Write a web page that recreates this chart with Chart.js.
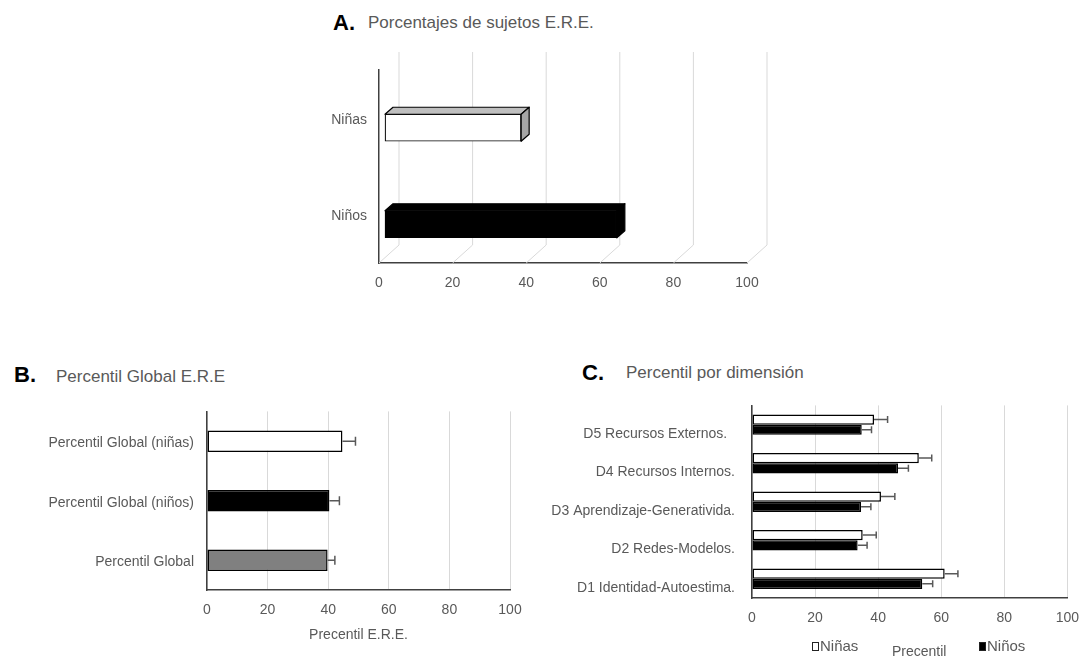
<!DOCTYPE html>
<html><head><meta charset="utf-8">
<script src="https://cdn.jsdelivr.net/npm/chart.js@4.4.0/dist/chart.umd.min.js"></script>
<style>
html,body{margin:0;padding:0;width:1091px;height:658px;overflow:hidden;background:#fff;font-family:'Liberation Sans',Arial,sans-serif;}
canvas{position:absolute;}
.t{position:absolute;white-space:nowrap;color:#595959;font-size:17px;line-height:20px;}
.lab{position:absolute;white-space:nowrap;color:#000;font-weight:bold;font-size:22px;line-height:24px;}
.lg{position:absolute;white-space:nowrap;color:#595959;font-size:15px;line-height:18px;}
.sq{display:inline-block;width:5px;height:7px;border:1px solid #222;margin-right:1px;vertical-align:0px;}
</style></head><body>
<div class="lab" style="left:333px;top:11px">A.</div>
<div class="t" style="left:368px;top:13px">Porcentajes de sujetos E.R.E.</div>
<div class="lab" style="left:14px;top:363px">B.</div>
<div class="t" style="left:56px;top:367px">Percentil Global E.R.E</div>
<div class="lab" style="left:582px;top:361px">C.</div>
<div class="t" style="left:626px;top:363px">Percentil por dimensión</div>

<canvas id="ca" width="560" height="280" style="left:250px;top:30px"></canvas>
<canvas id="cb" width="540" height="268" style="left:0px;top:390px"></canvas>
<canvas id="cc" width="551" height="290" style="left:540px;top:380px"></canvas>

<div class="lg" style="left:812px;top:637px"><span class="sq" style="background:#fff"></span>Niñas</div>
<div class="lg" style="left:892px;top:642px;font-size:14px">Precentil</div>
<div class="lg" style="left:979px;top:637px"><span class="sq" style="background:#000"></span>Niños</div>

<script>
// ---------- data ----------
const ticksX = [0, 20, 40, 60, 80, 100];

const catsA = ['Niñas', 'Niños'];
const pctA = [37, 63];

const catsB = ['Percentil Global (niñas)', 'Percentil Global (niños)', 'Percentil Global'];
const valsB = [44.7, 40.4, 39.8];
const errB = [4.3, 3.3, 2.4];

const catsC = ['D5 Recursos Externos.  ', 'D4 Recursos Internos.', 'D3 Aprendizaje-Generativida.', 'D2 Redes-Modelos.', 'D1 Identidad-Autoestima.'];
const ninasC = [38.7, 52.9, 40.9, 35.1, 61.1];
const ninasErrC = [4.3, 4.1, 4.4, 4.3, 4.2];
const ninosC = [34.8, 46.3, 34.6, 33.5, 54.0];
const ninosErrC = [3.1, 3.3, 3.1, 3.0, 3.3];

// ---------- common ----------
Chart.defaults.font.family = "'Liberation Sans', Arial, sans-serif";
Chart.defaults.color = '#595959';
const AXIS = '#404040';
const GRID = '#d9d9d9';

const errorBars = {
  id: 'errorBars',
  afterDatasetsDraw(chart, args, opts) {
    const ctx = chart.ctx, xs = chart.scales.x;
    chart.data.datasets.forEach((ds, i) => {
      if (!ds.err) return;
      chart.getDatasetMeta(i).data.forEach((bar, j) => {
        const x0 = bar.x, y = bar.y;
        const x1 = xs.getPixelForValue(ds.data[j] + ds.err[j]);
        ctx.save();
        ctx.strokeStyle = '#595959';
        ctx.lineWidth = 1.5;
        ctx.beginPath();
        ctx.moveTo(x0, y); ctx.lineTo(x1, y);
        ctx.moveTo(x1, y - opts.cap); ctx.lineTo(x1, y + opts.cap);
        ctx.stroke();
        ctx.restore();
      });
    });
  }
};

const threeD = {
  id: 'threeD',
  beforeDatasetsDraw(chart, args, o) {
    const ctx = chart.ctx, a = chart.chartArea, xs = chart.scales.x;
    ctx.save();
    ctx.strokeStyle = GRID; ctx.lineWidth = 1;
    xs.ticks.forEach(t => {
      const x = xs.getPixelForValue(t.value);
      ctx.beginPath();
      ctx.moveTo(x, a.bottom);
      ctx.lineTo(x + o.dx, a.bottom - o.dy);
      ctx.lineTo(x + o.dx, a.top - o.dy);
      ctx.stroke();
    });
    ctx.restore();
  },
  beforeDatasetDraw(chart, args, o) {
    chart.ctx.save();
    chart.ctx.translate(o.bx, o.by);
  },
  afterDatasetDraw(chart, args, o) {
    const ctx = chart.ctx;
    const ds = chart.data.datasets[args.index];
    args.meta.data.forEach((bar, j) => {
      const l = bar.base, r = bar.x, t = bar.y - bar.height / 2, b = bar.y + bar.height / 2;
      ctx.lineWidth = 1.2;
      ctx.strokeStyle = '#000';
      ctx.lineJoin = 'round';
      ctx.fillStyle = ds.topColor[j];
      ctx.beginPath();
      ctx.moveTo(l, t); ctx.lineTo(l + o.fx, t - o.fy); ctx.lineTo(r + o.fx, t - o.fy); ctx.lineTo(r, t); ctx.closePath();
      ctx.fill(); ctx.stroke();
      ctx.fillStyle = ds.sideColor[j];
      ctx.beginPath();
      ctx.moveTo(r, t); ctx.lineTo(r + o.fx, t - o.fy); ctx.lineTo(r + o.fx, b - o.fy); ctx.lineTo(r, b); ctx.closePath();
      ctx.fill(); ctx.stroke();
    });
    ctx.restore();
  }
};

function xScale(height, padding, title) {
  return {
    min: 0, max: 100,
    afterBuildTicks: s => { s.ticks = ticksX.map(v => ({ value: v })); },
    grid: { display: true, color: GRID, drawTicks: false, lineWidth: 1 },
    border: { display: true, color: AXIS, width: 1.5 },
    ticks: { padding: padding, font: { size: 14 }, color: '#595959' },
    title: title,
    afterFit: s => { s.height = height; }
  };
}
function yScale(width, padding, offset) {
  return {
    grid: { display: false, drawTicks: false },
    border: { display: true, color: AXIS, width: 1.5 },
    ticks: { padding: padding, labelOffset: offset, font: { size: 14 }, color: '#595959', autoSkip: false },
    afterFit: s => { s.width = width; }
  };
}

// ---------- A ----------
const xa = xScale(47, 12, { display: false });
xa.grid = { display: false, drawTicks: false };
new Chart(document.getElementById('ca'), {
  type: 'bar',
  data: {
    labels: catsA,
    datasets: [{
      data: pctA,
      backgroundColor: ['#ffffff', '#000000'],
      borderColor: '#000', borderWidth: 1.2, borderSkipped: false,
      barThickness: 27,
      topColor: ['#bfbfbf', '#000000'],
      sideColor: ['#a6a6a6', '#000000'],
      clip: false
    }]
  },
  options: {
    responsive: false, animation: false, indexAxis: 'y',
    layout: { padding: { top: 40, right: 63, left: 0, bottom: 0 } },
    plugins: { legend: { display: false }, tooltip: { enabled: false },
      threeD: { dx: 20, dy: 18, bx: 6, by: 9.5, fx: 8, fy: 7 } },
    scales: { x: xa, y: yScale(129, 12, 1.5) }
  },
  plugins: [threeD]
});

// ---------- B ----------
new Chart(document.getElementById('cb'), {
  type: 'bar',
  data: {
    labels: catsB,
    datasets: [{
      data: valsB, err: errB,
      backgroundColor: ['#ffffff', '#000000', '#808080'],
      borderColor: '#000', borderWidth: 1.5, borderSkipped: false,
      categoryPercentage: 1, barPercentage: 0.36
    }]
  },
  options: {
    responsive: false, animation: false, indexAxis: 'y',
    layout: { padding: { top: 14, right: 30, left: 0, bottom: 0 } },
    plugins: { legend: { display: false }, tooltip: { enabled: false }, errorBars: { cap: 4.5 } },
    scales: {
      x: xScale(68, 12, { display: true, text: 'Precentil E.R.E.', font: { size: 14 }, color: '#595959', padding: { top: 0, bottom: 14 } }),
      y: yScale(207, 13, 2)
    }
  },
  plugins: [errorBars]
});

// ---------- C ----------
new Chart(document.getElementById('cc'), {
  type: 'bar',
  data: {
    labels: catsC,
    datasets: [
      { label: 'Niñas', data: ninasC, err: ninasErrC, backgroundColor: '#ffffff',
        borderColor: '#000', borderWidth: 1.5, borderSkipped: false,
        categoryPercentage: 0.53, barPercentage: 1 },
      { label: 'Niños', data: ninosC, err: ninosErrC, backgroundColor: '#000000',
        borderColor: '#000', borderWidth: 1.5, borderSkipped: false,
        categoryPercentage: 0.53, barPercentage: 1 }
    ]
  },
  options: {
    responsive: false, animation: false, indexAxis: 'y',
    layout: { padding: { top: 13, right: 18, left: 0, bottom: 0 } },
    plugins: { legend: { display: false }, tooltip: { enabled: false }, errorBars: { cap: 3.5 } },
    scales: {
      x: xScale(72, 12, { display: false }),
      y: yScale(212, 17, 9)
    }
  },
  plugins: [errorBars]
});
</script>
</body></html>
